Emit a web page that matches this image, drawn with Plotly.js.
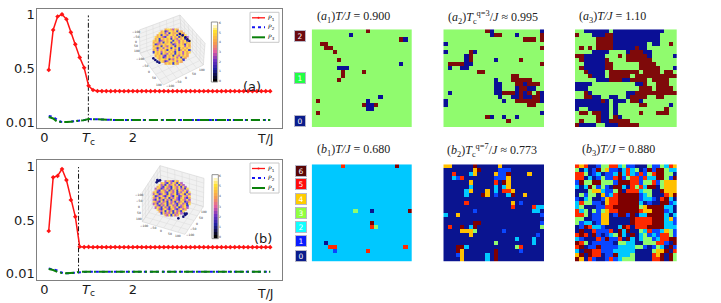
<!DOCTYPE html>
<html><head><meta charset="utf-8">
<script src="https://cdn.plot.ly/plotly-3.0.1.min.js"></script>
<style>html,body{margin:0;padding:0;background:#fff}</style></head>
<body><div id="plot" style="width:721px;height:303px"></div>
<script>
// ---------- line chart data ----------
const tempA = [0.1,0.2,0.3,0.4,0.5,0.6,0.7,0.8,0.9,1.0,1.1,1.2,1.3,1.4,1.5,1.6,1.7,1.8,1.9,2.0,2.1,2.2,2.3,2.4,2.5,2.6,2.7,2.8,2.9,3.0,3.1,3.2,3.3,3.4,3.5,3.6,3.7,3.8,3.9,4.0,4.1,4.2,4.3,4.4,4.5,4.6,4.7,4.8,4.9,5.0,5.1];
const p1A = [0.49,0.856,0.98,1.0,0.955,0.835,0.725,0.605,0.51,0.345,0.306,0.297,0.296,0.296,0.295,0.296,0.296,0.295,0.296,0.296,0.295,0.296,0.296,0.295,0.296,0.295,0.296,0.295,0.295,0.296,0.295,0.295,0.296,0.295,0.295,0.295,0.296,0.295,0.295,0.295,0.295,0.296,0.295,0.295,0.295,0.295,0.295,0.295,0.295,0.295,0.295];
const p2A = [0.068,0.06,0.03,0.012,0.012,0.016,0.02,0.024,0.03,0.04,0.038,0.034,0.032,0.032,0.03,0.031,0.03,0.031,0.03,0.03,0.031,0.03,0.03,0.031,0.03,0.03,0.03,0.031,0.03,0.03,0.03,0.03,0.031,0.03,0.03,0.03,0.03,0.03,0.03,0.031,0.03,0.03,0.03,0.03,0.03,0.03,0.03,0.03,0.03,0.03,0.03];
const p3A = [0.058,0.045,0.012,0.01,0.012,0.016,0.02,0.024,0.03,0.04,0.038,0.034,0.032,0.032,0.03,0.031,0.03,0.031,0.03,0.03,0.031,0.03,0.03,0.031,0.03,0.03,0.03,0.031,0.03,0.03,0.03,0.03,0.031,0.03,0.03,0.03,0.03,0.03,0.03,0.031,0.03,0.03,0.03,0.03,0.03,0.03,0.03,0.03,0.03,0.03,0.03];
const tempB = tempA;
const p1B = [0.40,0.895,0.908,0.972,0.87,0.686,0.532,0.255,0.252,0.253,0.251,0.252,0.251,0.251,0.251,0.252,0.251,0.251,0.251,0.251,0.252,0.251,0.251,0.251,0.251,0.251,0.251,0.252,0.251,0.251,0.251,0.251,0.251,0.251,0.252,0.251,0.251,0.251,0.251,0.251,0.251,0.251,0.251,0.252,0.251,0.251,0.251,0.251,0.251,0.251,0.251];
const p2B = [0.055,0.045,0.035,0.015,0.01,0.012,0.016,0.024,0.026,0.025,0.025,0.024,0.025,0.025,0.024,0.025,0.025,0.025,0.024,0.025,0.025,0.025,0.025,0.024,0.025,0.025,0.025,0.025,0.025,0.024,0.025,0.025,0.025,0.025,0.025,0.025,0.024,0.025,0.025,0.025,0.025,0.025,0.025,0.025,0.025,0.025,0.024,0.025,0.025,0.025,0.025];
const p3B = [0.05,0.04,0.022,0.012,0.01,0.012,0.016,0.024,0.026,0.025,0.025,0.024,0.025,0.025,0.024,0.025,0.025,0.025,0.024,0.025,0.025,0.025,0.025,0.024,0.025,0.025,0.025,0.025,0.025,0.024,0.025,0.025,0.025,0.025,0.025,0.025,0.024,0.025,0.025,0.025,0.025,0.025,0.025,0.025,0.025,0.025,0.024,0.025,0.025,0.025,0.025];
const tcA = 0.995, tcB = 0.773;
const xTickVals = [0,1,2], yTickVals = [0.01,0.5,1], yTickText = ['0.01','0.5','1'];

// ---------- spin maps: sparse panels as [row, col, state] ----------
const a1Sites = [[0,13,2],[1,9,0],[2,21,2],[2,22,0],[3,2,2],[3,3,2],[4,3,2],[4,4,2],[5,5,2],[7,6,2],[8,21,0],[9,6,0],[9,7,0],[9,8,0],[10,12,2],[10,7,2],[11,7,2],[12,6,2],[16,16,0],[17,1,2],[17,13,0],[18,12,2],[18,13,0],[18,14,0],[18,15,2],[19,13,0],[19,14,0],[20,1,2]];
const a2Sites = [[0,10,2],[0,11,0],[0,23,0],[1,11,0],[1,12,2],[1,13,2],[1,17,0],[1,23,2],[2,19,2],[2,20,2],[2,21,2],[2,23,2],[3,0,0],[4,23,2],[5,0,0],[5,6,2],[5,7,0],[6,5,0],[6,6,2],[7,5,0],[7,6,2],[7,12,0],[7,18,2],[8,1,2],[8,2,2],[8,3,2],[8,4,2],[8,5,0],[8,6,0],[8,23,2],[9,1,0],[9,4,0],[9,5,0],[10,8,2],[10,9,2],[11,16,2],[11,17,2],[12,12,0],[12,16,2],[12,17,2],[12,18,2],[12,19,2],[12,20,2],[13,12,0],[13,13,0],[13,17,2],[13,18,2],[13,19,0],[13,20,2],[13,21,2],[13,22,2],[14,12,0],[14,13,0],[14,17,0],[14,18,2],[14,19,2],[14,20,0],[14,21,0],[15,1,0],[15,12,0],[15,13,0],[15,14,2],[15,15,2],[15,16,2],[15,17,0],[15,18,2],[15,19,0],[15,20,2],[15,22,2],[15,23,0],[16,13,0],[16,16,0],[16,17,0],[16,18,2],[16,19,0],[16,20,0],[16,21,2],[16,22,2],[16,23,0],[17,0,0],[17,14,0],[17,17,2],[17,18,2],[17,19,2],[17,20,2],[17,21,2],[17,22,2],[17,23,0],[18,0,0],[18,20,2],[18,21,2],[20,23,0],[21,10,2],[21,11,0],[21,14,0],[21,17,0],[22,15,2]];
const a3Rows = [
"110000001000000000000111","211100022000000000001111","111112222000000000001111","111112222000000001001121",
"121212222000002001111111","111100001111022200111111","220000011121222220111110","120000021111222222111111",
"110000022111111222211111","120000022111111222221110","112000012222222122221221","111200012222213222222222",
"111110002220022221222211","000011111111110021122211","000111111111111222122221","112011111111002222222222",
"112200110011022221122111","000000201000122011111111","000000001011111221111101","011000001011111111111211",
"122122001011111211122211","111112001201111111111111","121112002222211111111111","200001100022222111111111"];
const b1Sites = [[0,7,5],[0,20,6],[11,10,3],[11,14,0],[11,23,6],[14,14,6],[15,14,5],[15,15,3],[19,3,0],[20,4,5],[20,5,5],[20,22,5],[21,5,1],[21,13,5]];
const b2Sites = [[0,0,4],[0,1,4],[0,7,6],[0,13,4],[1,7,4],[1,8,6],[1,13,1],[1,14,1],[1,15,1],[2,2,5],[2,6,2],[2,7,4],[2,12,4],[2,13,1],[2,14,1],[2,15,6],[2,20,4],[3,2,2],[3,3,1],[3,4,5],[3,12,1],[3,13,1],[3,14,1],[3,15,4],[4,6,4],[4,12,5],[4,14,6],[4,15,4],[5,6,2],[5,12,2],[5,14,2],[5,15,4],[6,5,2],[6,6,4],[6,10,4],[6,12,2],[6,14,5],[6,15,5],[6,16,4],[7,5,2],[7,9,6],[7,10,4],[7,12,1],[7,15,2],[7,16,6],[7,19,4],[9,5,5],[9,16,4],[9,18,1],[10,16,5],[10,21,5],[10,22,2],[10,23,2],[11,7,1],[11,21,2],[11,22,2],[12,0,2],[12,3,4],[12,23,1],[14,7,6],[14,8,6],[14,23,1],[15,1,5],[15,4,6],[15,6,2],[15,7,6],[15,23,3],[16,4,4],[16,5,4],[16,6,4],[16,7,3],[16,14,1],[17,6,4],[17,22,1],[18,17,2],[18,21,2],[19,12,3],[19,21,2],[20,3,6],[20,4,6],[20,5,2],[20,17,3],[20,18,5],[21,3,6],[21,4,4],[21,12,6],[21,18,1],[22,3,1],[22,4,4],[22,10,2],[22,12,6],[23,4,4],[23,10,2],[23,12,6]];
const b3Rows = [
"545001335523110003113254","302016341102523016166322","553012011262521513566330","550201311561355152266316",
"163366333166655133513444","202631310662053526603444","000344211360555233006444","031330412566666123000546",
"102300145566666122105620","253311045566666201006612","230001155666666346666220","523031345566666544666120",
"553011440166160226666202","330011440000065555666241","312201440000065555666221","016522100026505556666222",
"060051115062600325112431","565061012362060231215531","210005161150620233125566","653011111033220033355106",
"560116111122223310132061","206655111222220000344605","460655011622230000546063","640510015123330000556063"];
const colorsA = ['#0a0f96','#90fb6e','#7f0a0a'];
const colorsB = ['#0a1490','#0a46ff','#00c8ff','#90fb6e','#ffc000','#ff2a00','#7f0000'];
const panelTitles = [
 '(<i>a</i><sub>1</sub>)<i>T/J</i> = 0.900','(<i>a</i><sub>2</sub>)<i>T</i><sub>c</sub><sup>q=3</sup>/<i>J</i> ≈ 0.995','(<i>a</i><sub>3</sub>)<i>T/J</i> = 1.10',
 '(<i>b</i><sub>1</sub>)<i>T/J</i> = 0.680','(<i>b</i><sub>2</sub>)<i>T</i><sub>c</sub><sup>q=7</sup>/<i>J</i> ≈ 0.773','(<i>b</i><sub>3</sub>)<i>T/J</i> = 0.880'];
const keyA = ['2','1','0'], keyB = ['6','5','4','3','2','1','0'];

// ---------- inset data (inset coordinates) ----------
const boxA = {top:[150,15],left:[28,60],leftB:[30,130],back:[155,85],right:[225,100],rightB:[220,165],front:[100,225]};
const boxB = {top:[90,2],left:[37,82],leftB:[37,170],back:[95,88],right:[222,40],rightB:[220,125],front:[165,208]};
const diskA = ["3443243","34124434143","4342414334243","341432443414324","43432144243413432","34143434143243414","4341234344143243414","3432414341434243434","4123343443124343143","3434143243414344243","4313424341434143434","3424343143424134341","1434243434314342434","43414324341434243","34342143414324343","434124343424143","3443413243441","43124434243","3434143"];
const diskB = ["2432143","34214243142","4231423424132","342143214324142","24312423143242314","42143241324143242","3412342143241324314","2431243142341243142","4123421342143124324","3241342413242134213","2142314231432143242","4321423142314234123","2314234132421342314","42132413423142341","24314231432412342","421342134213423","3241423142314","14232413242","3241423"];
const diskCenterA = [125,110], diskCenterB = [125,100];
const blobA = [[150,72],[158,76],[166,82],[172,88],[178,93],[70,145],[76,150],[82,155],[88,158]];
const blobB = [[80,52],[85,48],[90,46],[82,45],[160,155],[166,150],[170,146],[164,146],[145,160]];
const barA = {x0:249,x1:262,y0:40,y1:212}, barB = {x0:251,x1:264,y0:33,y1:217};
const barLevels = [0,1,2,3,4,5,6,7,8,9,10,11,12,13,14,15,16,17,18,19,20];
const insetTicks = ['−100','−50','0','50','100'];
const barTicks = ['6','5','4','3','2','1','0'];

// ---------- helpers ----------
const W = 721, H = 303;
const fx = p => p / W, fy = p => 1 - p / H;
const data = [], annotations = [], shapes = [];
const layout = {width:W,height:H,autosize:false,margin:{l:0,r:0,t:0,b:0},paper_bgcolor:'#fff',plot_bgcolor:'rgba(0,0,0,0)',showlegend:false,annotations,shapes,font:{family:'DejaVu Sans',color:'#1a1a1a'}};
let axN = 0;
function newAxes(x0,x1,y0,y1,xOpt,yOpt){
  axN++; const s = axN === 1 ? '' : axN;
  layout['xaxis'+s] = Object.assign({domain:[fx(x0),fx(x1)],anchor:'y'+s,showgrid:false,zeroline:false},xOpt);
  layout['yaxis'+s] = Object.assign({domain:[fy(y1),fy(y0)],anchor:'x'+s,showgrid:false,zeroline:false},yOpt);
  return {x:'x'+s,y:'y'+s};
}
function note(px,py,text,size,opt){
  annotations.push(Object.assign({xref:'paper',yref:'paper',x:fx(px),y:fy(py),text,showarrow:false,xanchor:'center',yanchor:'middle',font:{size}},opt||{}));
}
function lineChart(x0,x1,y0,y1,yr,temp,p1,p2,p3,tc,tag,tagX,tagY,txY){
  const frame = {showline:true,mirror:true,linecolor:'#808080',linewidth:1,ticks:'',tickfont:{size:13,family:'DejaVu Sans',color:'#1a1a1a'}};
  const ax = newAxes(x0,x1,y0,y1,
    Object.assign({},frame,{range:[-0.158,5.36],tickmode:'array',tickvals:xTickVals,ticktext:['0','<i>T</i><sub>c</sub>','2'],ticklabelstandoff:-3}),
    Object.assign({},frame,{range:yr,tickmode:'array',tickvals:yTickVals,ticktext:yTickText,ticklabelstandoff:-1}));
  data.push({type:'scatter',mode:'lines',x:[tc,tc],y:[0.01,0.99],line:{color:'#111',width:1,dash:'5px,2px,1.5px,2px'},xaxis:ax.x,yaxis:ax.y,name:'Tc'});
  data.push({type:'scatter',mode:'lines+markers',x:temp,y:p1,line:{color:'#ff1414',width:1.5},marker:{symbol:'diamond',size:3.6,color:'#ff1414'},xaxis:ax.x,yaxis:ax.y,name:'P1'});
  data.push({type:'scatter',mode:'lines',x:temp,y:p2,line:{color:'#1414f0',width:2,dash:'dot'},xaxis:ax.x,yaxis:ax.y,name:'P2'});
  data.push({type:'scatter',mode:'lines',x:temp,y:p3,line:{color:'#0a800a',width:2,dash:'9px,3px,2px,3px'},xaxis:ax.x,yaxis:ax.y,name:'P3'});
  note(tagX,tagY,tag,13);
  note(265,txY,'T/J',12.5);
  const lx0 = 250, lx1 = 279, ly0 = y0 + 3, ly1 = y0 + 33;
  shapes.push({type:'rect',xref:'paper',yref:'paper',x0:fx(lx0),x1:fx(lx1),y0:fy(ly0),y1:fy(ly1),fillcolor:'#fff',line:{color:'#c8c8c8',width:1}});
  const ys = [ly0+5.5,ly0+15,ly0+25], cols = ['#ff1414','#1414f0','#0a800a'], dashes = ['solid','dot','solid'];
  ys.forEach((y,i)=>{
    shapes.push({type:'line',xref:'paper',yref:'paper',x0:fx(lx0+2),x1:fx(lx0+15),y0:fy(y),y1:fy(y),line:{color:cols[i],width:i?2:1.3,dash:dashes[i]}});
    note(lx0+21.5,y,'<i>P</i><sub>'+(i+1)+'</sub>',6);
  });
  shapes.push({type:'circle',xref:'paper',yref:'paper',x0:fx(lx0+7.5),x1:fx(lx0+9.5),y0:fy(ys[0]+1),y1:fy(ys[0]-1),fillcolor:'#ff1414',line:{width:0}});
}
function inset(x0,y0,box,disk,center,blob,bar){
  const ax = newAxes(x0,x0+100,y0,y0+85,{range:[0,300],visible:false,fixedrange:true},{range:[255,0],visible:false,fixedrange:true});
  const lerp=(p,q,t)=>[p[0]+(q[0]-p[0])*t,p[1]+(q[1]-p[1])*t];
  const wall = (a,b,c,d) => {
    data.push({type:'scatter',mode:'lines',x:[a[0],b[0],c[0],d[0],a[0]],y:[a[1],b[1],c[1],d[1],a[1]],fill:'toself',fillcolor:'#f1f1f1',line:{color:'#d4d4d4',width:0.6},hoverinfo:'skip',xaxis:ax.x,yaxis:ax.y});
    [1,2,3,4,5].forEach(k=>{
      const t=k/6, e=lerp(a,b,t), f=lerp(d,c,t), g=lerp(a,d,t), h=lerp(b,c,t);
      data.push({type:'scatter',mode:'lines',x:[e[0],f[0],null,g[0],h[0]],y:[e[1],f[1],null,g[1],h[1]],line:{color:'#dadada',width:0.5},hoverinfo:'skip',xaxis:ax.x,yaxis:ax.y});
    });
  };
  wall(box.left,box.top,box.back,box.leftB);
  wall(box.top,box.right,box.rightB,box.back);
  wall(box.leftB,box.back,box.rightB,box.front);
  const sx=[],sy=[],sc=[], n=disk.length;
  disk.forEach((row,i)=>{ [...row].forEach((ch,j)=>{
    sx.push(center[0]+(j-(row.length-1)/2)*5.9);
    sy.push(center[1]+(i-(n-1)/2)*5.6);
    sc.push(+ch);
  });});
  const spin = ['#000030','#3a3ad8','#b060c8','#f3a860','#ffdc50'];
  data.push({type:'scatter',mode:'markers',x:sx,y:sy,marker:{symbol:'square',size:2.6,color:sc.map(v=>spin[v]),line:{width:0}},hoverinfo:'skip',xaxis:ax.x,yaxis:ax.y});
  data.push({type:'scatter',mode:'markers',x:blob.map(p=>p[0]),y:blob.map(p=>p[1]),marker:{size:2.6,color:'#10107a',line:{width:0}},hoverinfo:'skip',xaxis:ax.x,yaxis:ax.y});
  const ys = barLevels.map(v=>bar.y0+(bar.y1-bar.y0)*v/20);
  data.push({type:'heatmap',x:[bar.x0,bar.x1],y:ys,z:barLevels.map(v=>[20-v]),zmin:0,zmax:20,showscale:false,hoverinfo:'skip',
    colorscale:[[0,'#000000'],[0.2,'#2020a0'],[0.35,'#7030c0'],[0.5,'#e060a0'],[0.65,'#f59a50'],[0.85,'#ffe030'],[1,'#ffffff']],xaxis:ax.x,yaxis:ax.y});
  const fl=bar.x0-5, fr=bar.x1+1, ft=bar.y0-4, fb=bar.y1+4;
  data.push({type:'scatter',mode:'lines',x:[fl,fr,fr,fl,fl],y:[ft,ft,fb,fb,ft],line:{color:'#777',width:0.8},hoverinfo:'skip',xaxis:ax.x,yaxis:ax.y});
  const tiny = (p,text) => annotations.push({xref:ax.x,yref:ax.y,x:p[0],y:p[1],text,showarrow:false,xanchor:'center',yanchor:'middle',font:{size:3,color:'#333'}});
  insetTicks.forEach((t,i)=>{
    const u=(i+0.5)/5, a=lerp(box.leftB,box.front,u), b=lerp(box.front,box.rightB,u), c=lerp(box.left,box.leftB,u);
    tiny([a[0]-7,a[1]+9],t); tiny([b[0]+8,b[1]+9],t); tiny([c[0]-10,c[1]],t);
  });
  barTicks.forEach((t,i)=>tiny([bar.x1+7,bar.y0+(bar.y1-bar.y0)*i/6],t));
}
function gridFrom(rows){ return rows.map(r=>[...r].map(Number)); }
function gridSparse(base,sites){
  const z=[]; for(let i=0;i<24;i++){ z.push(new Array(24).fill(base)); }
  sites.forEach(s=>{ z[s[0]][s[1]]=s[2]; });
  return z;
}
function panel(x0,x1,y0,y1,z,colors){
  const ax = newAxes(x0,x1,y0,y1,{range:[-0.5,23.5],visible:false,fixedrange:true},{range:[23.5,-0.5],visible:false,fixedrange:true});
  const K=colors.length, cs=[];
  colors.forEach((c,i)=>{ cs.push([i/K,c]); cs.push([(i+1)/K,c]); });
  data.push({type:'heatmap',z,zmin:-0.5,zmax:K-0.5,colorscale:cs,showscale:false,xaxis:ax.x,yaxis:ax.y});
}
function key(labels,ys,colors,xc){
  labels.forEach((t,i)=>{
    note(xc,ys[i],t,7.5,{bgcolor:colors[+t],bordercolor:'#b8b8c8',borderwidth:1,borderpad:0,width:10,height:10,font:{size:7.5,color:'#fff'}});
  });
}

// ---------- assemble ----------
lineChart(37.3,281.7,9.3,128.3,[-0.045,1.046],tempA,p1A,p2A,p3A,tcA,'(a)',252,86,138);
lineChart(37.3,281.7,160,280,[-0.052,1.055],tempB,p1B,p2B,p3B,tcB,'(b)',263,238,293);
inset(130,10,boxA,diskA,diskCenterA,blobA,barA);
inset(130,165,boxB,diskB,diskCenterB,blobB,barB);
panel(311.7,412,29.3,127,gridSparse(1,a1Sites),colorsA);
panel(443.3,544,29.3,127,gridSparse(1,a2Sites),colorsA);
panel(575,676.7,29.3,127,gridFrom(a3Rows),colorsA);
panel(311.7,412,164.3,261.7,gridSparse(2,b1Sites),colorsB);
panel(443.3,544,164.3,261.7,gridSparse(0,b2Sites),colorsB);
panel(575,676.7,164.3,261.7,gridFrom(b3Rows),colorsB);
[[353,17],[493,17],[612,17],[353,150],[492,150],[618,150]].forEach((p,i)=>note(p[0],p[1],panelTitles[i],12,{font:{size:12,family:'Liberation Serif',color:'#222'}}));
key(keyA,[35.5,78,121],['#0a1c8c','#22ff44','#6b0a10'],300);
key(keyB,[171,184,199,213,227,241,256],['#0a1c8c','#0a1cff','#10ffff','#90ff40','#ffcc00','#ff0a0a','#5a0505'],300.5);

Plotly.newPlot('plot',data,layout,{displayModeBar:false,staticPlot:true});
</script></body></html>
